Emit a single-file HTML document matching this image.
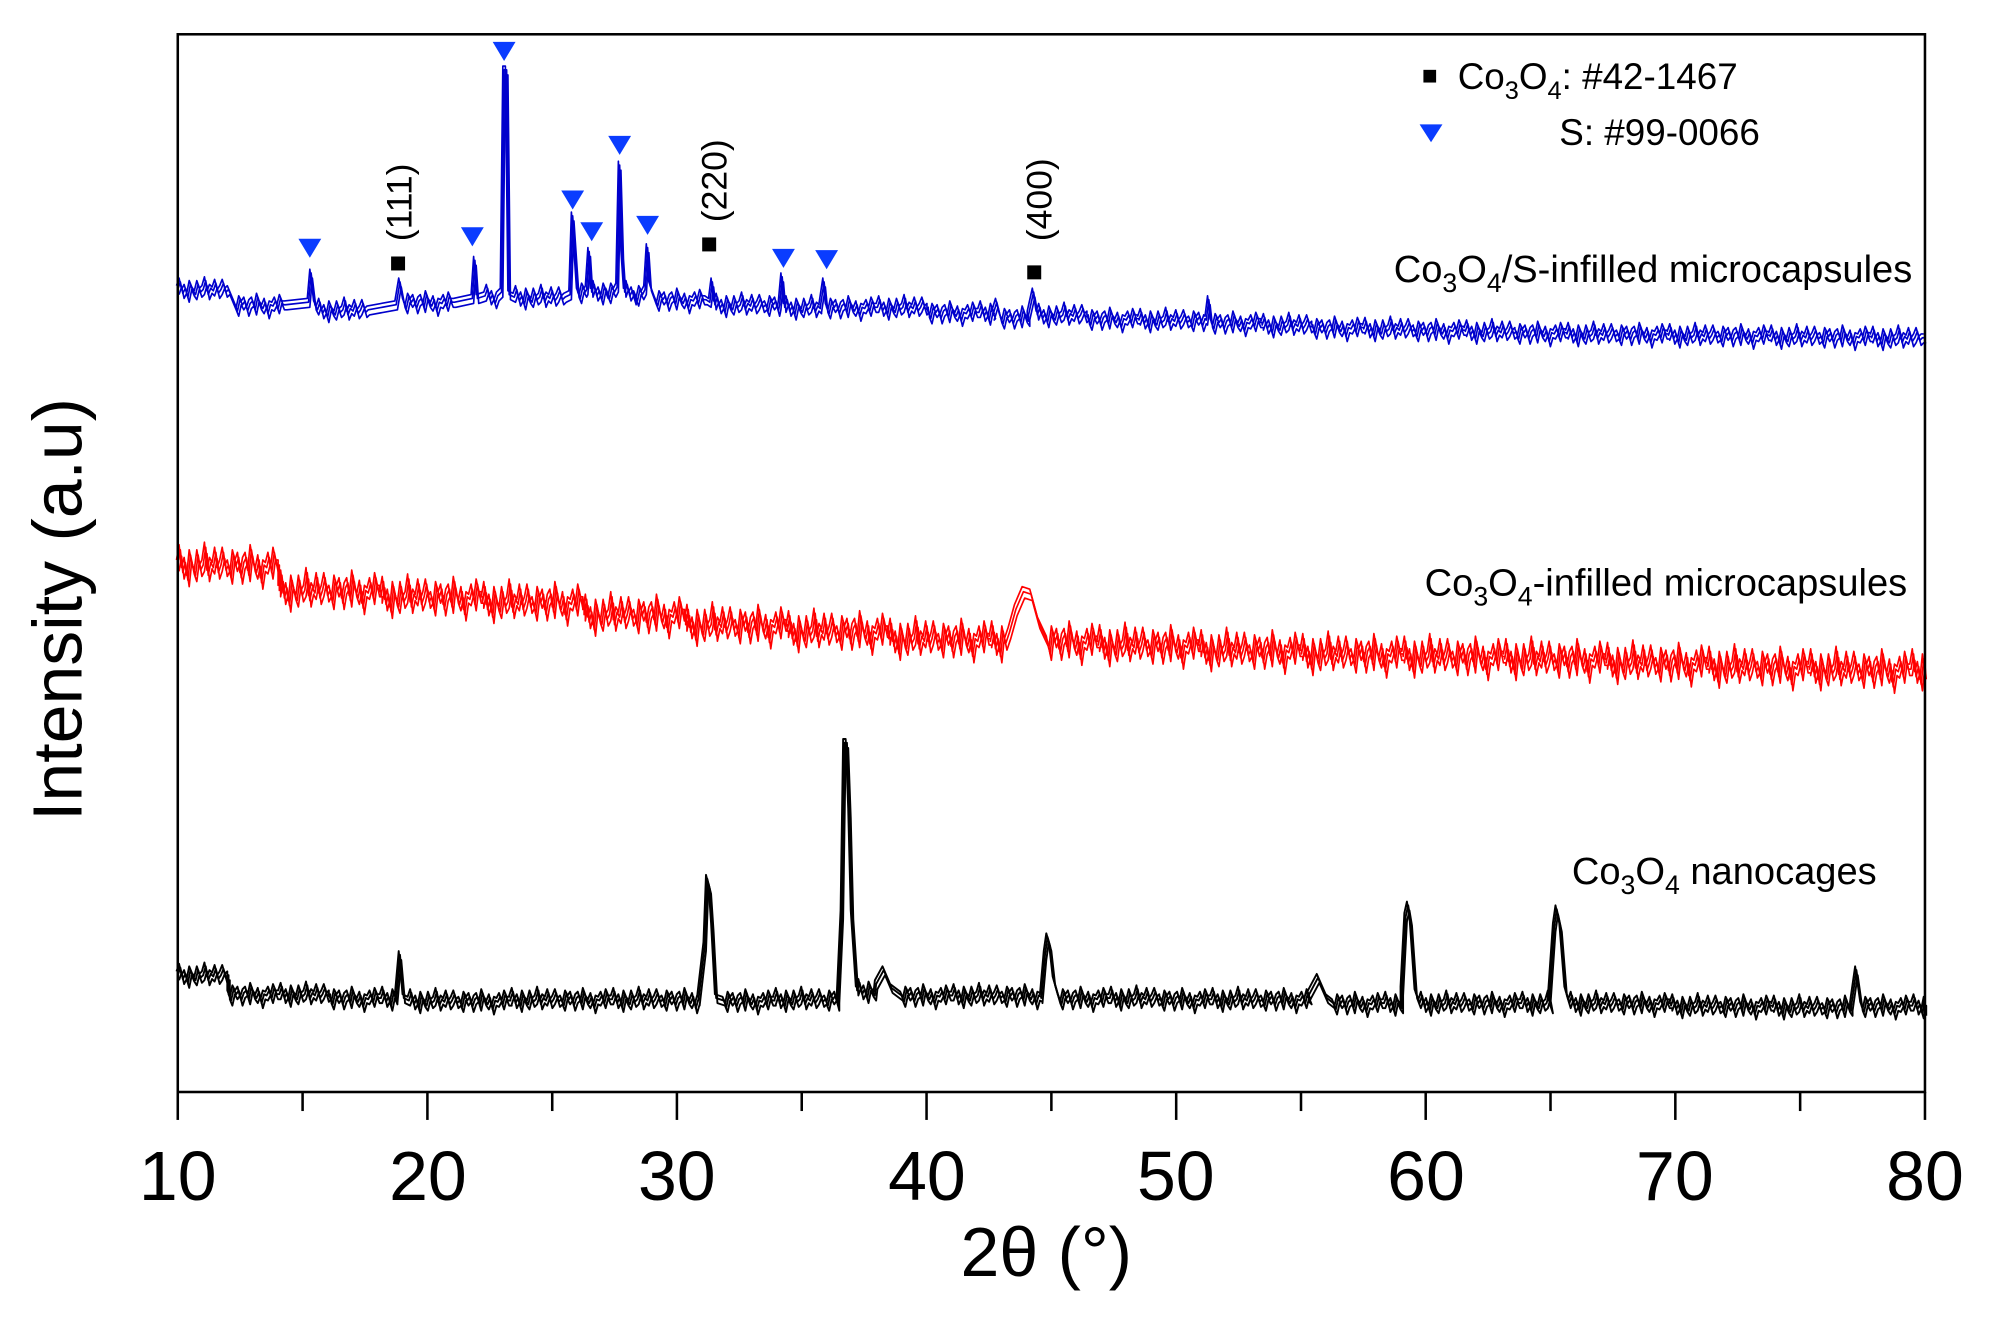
<!DOCTYPE html>
<html><head><meta charset="utf-8"><style>
html,body{margin:0;padding:0;background:#fff;}
svg{display:block;font-family:"Liberation Sans",Arial,sans-serif;}
</style></head><body>
<svg width="1991" height="1325" viewBox="0 0 1568 1043.5" xmlns="http://www.w3.org/2000/svg" xmlns:xlink="http://www.w3.org/1999/xlink">
<rect x="0" y="0" width="1568" height="1044" fill="#fff"/>
<g fill="none" stroke-width="1.3" stroke-linejoin="round">
<path id="pb" stroke="#0000cc" d="M140,228 l2,-6 2,9 2,-4 2,7 2,-10 2,5 2,3 2,-8 2,6 2,-2 2,-7 2,11 2,-5 2,2 2,-6 2,8 2,-3 2,-5 2,7 2,-2 L185,240 l2,5 2,-9 2,4 2,-3 2,8 2,-6 2,-2 2,7 2,-10 2,6 2,3 2,-5 2,9 2,-7 2,1 2,-4 2,6 2,-8 2,5 2,0 L243,238 L245,215 L248,240 L250,244 l2,-6 2,9 2,-4 2,7 2,-10 2,5 2,3 2,-8 2,6 2,-2 2,-7 2,11 2,-5 2,2 2,-6 2,8 2,-3 2,-5 2,7 2,-2 L312,240 L315,222 L318,238 l2,5 2,-9 2,4 2,-3 2,8 2,-6 2,-2 2,7 2,-10 2,6 2,3 2,-5 2,9 2,-7 2,1 2,-4 2,6 2,-8 2,5 2,0 L372,235 L374,205 L376,235 L382,233 l2,-6 2,9 2,-4 2,7 2,-6 L395,230 L397,55 L399,55 L401,232 L405,234 l2,-6 2,9 2,-4 2,7 2,-10 2,5 2,3 2,-8 2,6 2,-2 2,-7 2,11 2,-5 2,2 2,-6 2,8 2,-3 2,-5 2,7 2,-2 L449,232 L451,170 L453,200 L455,230 l2,5 2,-9 2,4 L462,228 L464,198 L466,230 l2,-6 2,9 2,-4 2,7 2,-10 2,5 L478,230 l2,5 2,-9 2,4 L486,226 L488,130 L490,200 L492,230 l2,-6 2,9 2,-4 2,7 L500,232 l2,5 2,-9 2,4 L508,228 L510,195 L512,225 L516,236 l2,5 2,-9 2,4 2,-3 2,8 2,-6 2,-2 2,7 2,-10 2,6 2,3 2,-5 2,9 2,-7 2,1 2,-4 2,6 2,-8 2,5 2,0 L559,238 L561,222 L563,240 l2,-6 2,9 2,-4 2,7 2,-10 2,5 2,3 2,-8 2,6 2,-2 2,-7 2,11 2,-5 2,2 2,-6 2,8 2,-3 2,-5 2,7 2,-2 l2,5 2,-9 2,4 2,-3 2,8 L614,240 L616,218 L618,242 l2,-6 2,9 2,-4 2,7 2,-10 2,5 2,3 2,-8 2,6 2,-2 2,-7 2,11 2,-5 2,2 L646,242 L649,222 L651,242 l2,5 2,-9 2,4 2,-3 2,8 2,-6 2,-2 2,7 2,-10 2,6 2,3 2,-5 2,9 2,-7 2,1 2,-4 2,6 2,-8 2,5 2,0 l2,-6 2,9 2,-4 2,7 2,-10 2,5 2,3 2,-8 2,6 2,-2 2,-7 2,11 2,-5 2,2 2,-6 2,8 2,-3 2,-5 2,7 2,-2 L731,246 l2,5 2,-9 2,4 2,-3 2,8 2,-6 2,-2 2,7 2,-10 2,6 2,3 2,-5 2,9 2,-7 2,1 2,-4 2,6 2,-8 2,5 2,0 l2,-6 2,9 2,-4 2,7 2,-10 2,5 L782,248 L785,238 L788,250 l2,5 2,-9 2,4 2,-3 2,8 2,-6 2,-2 2,7 2,-10 2,6 2,3 L810,248 L814,230 L817,248 l2,-6 2,9 2,-4 2,7 2,-10 2,5 2,3 2,-8 2,6 2,-2 2,-7 2,11 2,-5 2,2 2,-6 2,8 2,-3 2,-5 2,7 2,-2 L857,251 l2,5 2,-9 2,4 2,-3 2,8 2,-6 2,-2 2,7 2,-10 2,6 2,3 2,-5 2,9 2,-7 2,1 2,-4 2,6 2,-8 2,5 2,0 L897,252 l2,-6 2,9 2,-4 2,7 2,-10 2,5 2,3 2,-8 2,6 2,-2 2,-7 2,11 2,-5 2,2 2,-6 2,8 2,-3 2,-5 2,7 2,-2 l2,5 2,-9 2,4 2,-3 2,8 2,-6 L950,252 L952,236 L954,254 l2,5 2,-9 2,4 2,-3 2,8 2,-6 2,-2 2,7 2,-10 2,6 2,3 2,-5 2,9 2,-7 2,1 2,-4 2,6 2,-8 2,5 2,0 L994,256 l2,-6 2,9 2,-4 2,7 2,-10 2,5 2,3 2,-8 2,6 2,-2 2,-7 2,11 2,-5 2,2 2,-6 2,8 2,-3 2,-5 2,7 2,-2 L1034,258 l2,5 2,-9 2,4 2,-3 2,8 2,-6 2,-2 2,7 2,-10 2,6 2,3 2,-5 2,9 2,-7 2,1 2,-4 2,6 2,-8 2,5 2,0 L1074,259 l2,-6 2,9 2,-4 2,7 2,-10 2,5 2,3 2,-8 2,6 2,-2 2,-7 2,11 2,-5 2,2 2,-6 2,8 2,-3 2,-5 2,7 2,-2 L1114,260 l2,5 2,-9 2,4 2,-3 2,8 2,-6 2,-2 2,7 2,-10 2,6 2,3 2,-5 2,9 2,-7 2,1 2,-4 2,6 2,-8 2,5 2,0 L1154,261 l2,-6 2,9 2,-4 2,7 2,-10 2,5 2,3 2,-8 2,6 2,-2 2,-7 2,11 2,-5 2,2 2,-6 2,8 2,-3 2,-5 2,7 2,-2 L1194,262 l2,5 2,-9 2,4 2,-3 2,8 2,-6 2,-2 2,7 2,-10 2,6 2,3 2,-5 2,9 2,-7 2,1 2,-4 2,6 2,-8 2,5 2,0 L1234,263 l2,-6 2,9 2,-4 2,7 2,-10 2,5 2,3 2,-8 2,6 2,-2 2,-7 2,11 2,-5 2,2 2,-6 2,8 2,-3 2,-5 2,7 2,-2 L1274,263 l2,5 2,-9 2,4 2,-3 2,8 2,-6 2,-2 2,7 2,-10 2,6 2,3 2,-5 2,9 2,-7 2,1 2,-4 2,6 2,-8 2,5 2,0 L1314,264 l2,-6 2,9 2,-4 2,7 2,-10 2,5 2,3 2,-8 2,6 2,-2 2,-7 2,11 2,-5 2,2 2,-6 2,8 2,-3 2,-5 2,7 2,-2 L1354,264 l2,5 2,-9 2,4 2,-3 2,8 2,-6 2,-2 2,7 2,-10 2,6 2,3 2,-5 2,9 2,-7 2,1 2,-4 2,6 2,-8 2,5 2,0 L1394,265 l2,-6 2,9 2,-4 2,7 2,-10 2,5 2,3 2,-8 2,6 2,-2 2,-7 2,11 2,-5 2,2 2,-6 2,8 2,-3 2,-5 2,7 2,-2 L1434,265 l2,5 2,-9 2,4 2,-3 2,8 2,-6 2,-2 2,7 2,-10 2,6 2,3 2,-5 2,9 2,-7 2,1 2,-4 2,6 2,-8 2,5 2,0 L1474,266 l2,-6 2,9 2,-4 2,7 2,-10 2,5 2,3 2,-8 2,6 2,-2 2,-7 2,11 2,-5 2,2 2,-6 2,8 2,-3 2,-5 2,7 2,-2 L1516,266"/>
<path id="pr" stroke="#ff0000" d="M140,445 l2,-12 2,18 2,-8 2,14 2,-20 2,10 2,6 2,-16 2,12 2,-4 2,-14 2,22 2,-10 2,4 2,-12 2,16 2,-6 2,-10 2,14 2,-4 l2,10 2,-18 2,8 2,-6 2,16 2,-12 2,-4 2,14 2,-20 2,12 2,6 2,-10 2,18 2,-14 2,2 2,-8 2,12 2,-16 2,10 2,0 L220,465 l2,-12 2,18 2,-8 2,14 2,-20 2,10 2,6 2,-16 2,12 2,-4 2,-14 2,22 2,-10 2,4 2,-12 2,16 2,-6 2,-10 2,14 2,-4 l2,10 2,-18 2,8 2,-6 2,16 2,-12 2,-4 2,14 2,-20 2,12 2,6 2,-10 2,18 2,-14 2,2 2,-8 2,12 2,-16 2,10 2,0 L300,470 l2,-12 2,18 2,-8 2,14 2,-20 2,10 2,6 2,-16 2,12 2,-4 2,-14 2,22 2,-10 2,4 2,-12 2,16 2,-6 2,-10 2,14 2,-4 l2,10 2,-18 2,8 2,-6 2,16 2,-12 2,-4 2,14 2,-20 2,12 2,6 2,-10 2,18 2,-14 2,2 2,-8 2,12 2,-16 2,10 2,0 L380,474 l2,-12 2,18 2,-8 2,14 2,-20 2,10 2,6 2,-16 2,12 2,-4 2,-14 2,22 2,-10 2,4 2,-12 2,16 2,-6 2,-10 2,14 2,-4 l2,10 2,-18 2,8 2,-6 2,16 2,-12 2,-4 2,14 2,-20 2,12 2,6 2,-10 2,18 2,-14 2,2 2,-8 2,12 2,-16 2,10 2,0 L460,484 l2,-12 2,18 2,-8 2,14 2,-20 2,10 2,6 2,-16 2,12 2,-4 2,-14 2,22 2,-10 2,4 2,-12 2,16 2,-6 2,-10 2,14 2,-4 l2,10 2,-18 2,8 2,-6 2,16 2,-12 2,-4 2,14 2,-20 2,12 2,6 2,-10 2,18 2,-14 2,2 2,-8 2,12 2,-16 2,10 2,0 L540,492 l2,-12 2,18 2,-8 2,14 2,-20 2,10 2,6 2,-16 2,12 2,-4 2,-14 2,22 2,-10 2,4 2,-12 2,16 2,-6 2,-10 2,14 2,-4 l2,10 2,-18 2,8 2,-6 2,16 2,-12 2,-4 2,14 2,-20 2,12 2,6 2,-10 2,18 2,-14 2,2 2,-8 2,12 2,-16 2,10 2,0 L620,497 l2,-12 2,18 2,-8 2,14 2,-20 2,10 2,6 2,-16 2,12 2,-4 2,-14 2,22 2,-10 2,4 2,-12 2,16 2,-6 2,-10 2,14 2,-4 l2,10 2,-18 2,8 2,-6 2,16 2,-12 2,-4 2,14 2,-20 2,12 2,6 2,-10 2,18 2,-14 2,2 2,-8 2,12 2,-16 2,10 2,0 L700,503 l2,-12 2,18 2,-8 2,14 2,-20 2,10 2,6 2,-16 2,12 2,-4 2,-14 2,22 2,-10 2,4 2,-12 2,16 2,-6 2,-10 2,14 2,-4 l2,10 2,-18 2,8 2,-6 2,16 2,-12 2,-4 2,14 2,-20 2,12 2,6 2,-10 2,18 2,-14 2,2 2,-8 2,12 2,-16 2,10 2,0 L780,505 l2,-12 2,18 2,-8 2,14 2,-20 2,10 L795,498 L800,480 L806,466 L812,468 L818,490 L825,505 l2,10 2,-18 2,8 2,-6 2,16 2,-12 2,-4 2,14 2,-20 2,12 2,6 2,-10 2,18 2,-14 2,2 2,-8 2,12 2,-16 2,10 2,0 L865,508 l2,-12 2,18 2,-8 2,14 2,-20 2,10 2,6 2,-16 2,12 2,-4 2,-14 2,22 2,-10 2,4 2,-12 2,16 2,-6 2,-10 2,14 2,-4 l2,10 2,-18 2,8 2,-6 2,16 2,-12 2,-4 2,14 2,-20 2,12 2,6 2,-10 2,18 2,-14 2,2 2,-8 2,12 2,-16 2,10 2,0 L945,512 l2,-12 2,18 2,-8 2,14 2,-20 2,10 2,6 2,-16 2,12 2,-4 2,-14 2,22 2,-10 2,4 2,-12 2,16 2,-6 2,-10 2,14 2,-4 l2,10 2,-18 2,8 2,-6 2,16 2,-12 2,-4 2,14 2,-20 2,12 2,6 2,-10 2,18 2,-14 2,2 2,-8 2,12 2,-16 2,10 2,0 L1025,515 l2,-12 2,18 2,-8 2,14 2,-20 2,10 2,6 2,-16 2,12 2,-4 2,-14 2,22 2,-10 2,4 2,-12 2,16 2,-6 2,-10 2,14 2,-4 l2,10 2,-18 2,8 2,-6 2,16 2,-12 2,-4 2,14 2,-20 2,12 2,6 2,-10 2,18 2,-14 2,2 2,-8 2,12 2,-16 2,10 2,0 L1105,517 l2,-12 2,18 2,-8 2,14 2,-20 2,10 2,6 2,-16 2,12 2,-4 2,-14 2,22 2,-10 2,4 2,-12 2,16 2,-6 2,-10 2,14 2,-4 l2,10 2,-18 2,8 2,-6 2,16 2,-12 2,-4 2,14 2,-20 2,12 2,6 2,-10 2,18 2,-14 2,2 2,-8 2,12 2,-16 2,10 2,0 L1185,519 l2,-12 2,18 2,-8 2,14 2,-20 2,10 2,6 2,-16 2,12 2,-4 2,-14 2,22 2,-10 2,4 2,-12 2,16 2,-6 2,-10 2,14 2,-4 l2,10 2,-18 2,8 2,-6 2,16 2,-12 2,-4 2,14 2,-20 2,12 2,6 2,-10 2,18 2,-14 2,2 2,-8 2,12 2,-16 2,10 2,0 L1265,522 l2,-12 2,18 2,-8 2,14 2,-20 2,10 2,6 2,-16 2,12 2,-4 2,-14 2,22 2,-10 2,4 2,-12 2,16 2,-6 2,-10 2,14 2,-4 l2,10 2,-18 2,8 2,-6 2,16 2,-12 2,-4 2,14 2,-20 2,12 2,6 2,-10 2,18 2,-14 2,2 2,-8 2,12 2,-16 2,10 2,0 L1345,525 l2,-12 2,18 2,-8 2,14 2,-20 2,10 2,6 2,-16 2,12 2,-4 2,-14 2,22 2,-10 2,4 2,-12 2,16 2,-6 2,-10 2,14 2,-4 l2,10 2,-18 2,8 2,-6 2,16 2,-12 2,-4 2,14 2,-20 2,12 2,6 2,-10 2,18 2,-14 2,2 2,-8 2,12 2,-16 2,10 2,0 L1425,527 l2,-12 2,18 2,-8 2,14 2,-20 2,10 2,6 2,-16 2,12 2,-4 2,-14 2,22 2,-10 2,4 2,-12 2,16 2,-6 2,-10 2,14 2,-4 l2,10 2,-18 2,8 2,-6 2,16 2,-12 2,-4 2,14 2,-20 2,12 2,6 2,-10 2,18 2,-14 2,2 2,-8 2,12 2,-16 2,10 2,0 l2,-12 2,18 2,-8 2,14 2,-20 L1516,530"/>
<path id="pk" stroke="#000" stroke-width="1.5" d="M140,768 l2,-6 2,9 2,-4 2,7 2,-10 2,5 2,3 2,-8 2,6 2,-2 2,-7 2,11 2,-5 2,2 2,-6 2,8 2,-3 2,-5 2,7 2,-2 L180,783 l2,5 2,-9 2,4 2,-3 2,8 2,-6 2,-2 2,7 2,-10 2,6 2,3 2,-5 2,9 2,-7 2,1 2,-4 2,6 2,-8 2,5 2,0 l2,-6 2,9 2,-4 2,7 2,-10 2,5 2,3 2,-8 2,6 2,-2 2,-7 2,11 2,-5 2,2 2,-6 2,8 2,-3 2,-5 2,7 2,-2 L260,786 l2,5 2,-9 2,4 2,-3 2,8 2,-6 2,-2 2,7 2,-10 2,6 2,3 2,-5 2,9 2,-7 2,1 2,-4 2,6 2,-8 2,5 2,0 l2,-6 2,9 2,-4 2,7 2,-10 2,5 L312,786 L315,752 L318,786 L322,788 l2,-6 2,9 2,-4 2,7 2,-10 2,5 2,3 2,-8 2,6 2,-2 2,-7 2,11 2,-5 2,2 2,-6 2,8 2,-3 2,-5 2,7 2,-2 l2,5 2,-9 2,4 2,-3 2,8 2,-6 2,-2 2,7 2,-10 2,6 2,3 2,-5 2,9 2,-7 2,1 2,-4 2,6 2,-8 2,5 2,0 L402,787 l2,-6 2,9 2,-4 2,7 2,-10 2,5 2,3 2,-8 2,6 2,-2 2,-7 2,11 2,-5 2,2 2,-6 2,8 2,-3 2,-5 2,7 2,-2 l2,5 2,-9 2,4 2,-3 2,8 2,-6 2,-2 2,7 2,-10 2,6 2,3 2,-5 2,9 2,-7 2,1 2,-4 2,6 2,-8 2,5 2,0 L482,787 l2,-6 2,9 2,-4 2,7 2,-10 2,5 2,3 2,-8 2,6 2,-2 2,-7 2,11 2,-5 2,2 2,-6 2,8 2,-3 2,-5 2,7 2,-2 l2,5 2,-9 2,4 2,-3 2,8 2,-6 2,-2 2,7 2,-10 2,6 2,3 2,-5 2,9 2,-7 L550,788 L555,745 L557,692 L559,700 L561,730 L564,786 L570,788 l2,5 2,-9 2,4 2,-3 2,8 2,-6 2,-2 2,7 2,-10 2,6 2,3 2,-5 2,9 2,-7 2,1 2,-4 2,6 2,-8 2,5 2,0 L610,787 l2,-6 2,9 2,-4 2,7 2,-10 2,5 2,3 2,-8 2,6 2,-2 2,-7 2,11 2,-5 2,2 2,-6 2,8 2,-3 2,-5 2,7 2,-2 l2,5 2,-9 2,4 2,-3 2,8 L660,786 L663,720 L665,585 L667,585 L669,640 L671,720 L675,780 l2,-6 2,9 2,-4 2,7 2,-10 2,5 2,3 L690,775 L696,764 L702,778 L710,784 l2,5 2,-9 2,4 2,-3 2,8 2,-6 2,-2 2,7 2,-10 2,6 2,3 2,-5 2,9 2,-7 2,1 2,-4 2,6 2,-8 2,5 2,0 l2,-6 2,9 2,-4 2,7 2,-10 2,5 2,3 2,-8 2,6 2,-2 2,-7 2,11 2,-5 2,2 2,-6 2,8 2,-3 2,-5 2,7 2,-2 l2,5 2,-9 2,4 2,-3 2,8 2,-6 2,-2 2,7 2,-10 2,6 2,3 2,-5 2,9 2,-7 2,1 L820,786 L823,752 L825,738 L827,745 L830,772 L834,786 l2,5 2,-9 2,4 2,-3 2,8 2,-6 2,-2 2,7 2,-10 2,6 2,3 2,-5 2,9 2,-7 2,1 2,-4 2,6 2,-8 2,5 2,0 l2,-6 2,9 2,-4 2,7 2,-10 2,5 2,3 2,-8 2,6 2,-2 2,-7 2,11 2,-5 2,2 2,-6 2,8 2,-3 2,-5 2,7 2,-2 L914,787 l2,5 2,-9 2,4 2,-3 2,8 2,-6 2,-2 2,7 2,-10 2,6 2,3 2,-5 2,9 2,-7 2,1 2,-4 2,6 2,-8 2,5 2,0 l2,-6 2,9 2,-4 2,7 2,-10 2,5 2,3 2,-8 2,6 2,-2 2,-7 2,11 2,-5 2,2 2,-6 2,8 2,-3 2,-5 2,7 2,-2 l2,5 2,-9 2,4 2,-3 2,8 2,-6 2,-2 2,7 2,-10 2,6 2,3 2,-5 2,9 2,-7 2,1 2,-4 2,6 2,-8 2,5 L1030,785 L1038,770 L1045,786 L1050,790 l2,5 2,-9 2,4 2,-3 2,8 2,-6 2,-2 2,7 2,-10 2,6 2,3 2,-5 2,9 2,-7 2,1 2,-4 2,6 2,-8 2,5 2,0 l2,-6 2,9 2,-4 2,7 2,-10 2,5 2,3 L1104,780 L1107,722 L1109,713 L1111,725 L1115,782 L1118,790 l2,-6 2,9 2,-4 2,7 2,-10 2,5 2,3 2,-8 2,6 2,-2 2,-7 2,11 2,-5 2,2 2,-6 2,8 2,-3 2,-5 2,7 2,-2 l2,5 2,-9 2,4 2,-3 2,8 2,-6 2,-2 2,7 2,-10 2,6 2,3 2,-5 2,9 2,-7 2,1 2,-4 2,6 2,-8 2,5 2,0 l2,-6 2,9 2,-4 2,7 2,-10 2,5 2,3 2,-8 2,6 2,-2 2,-7 2,11 L1220,788 L1224,730 L1226,716 L1229,730 L1233,780 L1236,790 l2,-6 2,9 2,-4 2,7 2,-10 2,5 2,3 2,-8 2,6 2,-2 2,-7 2,11 2,-5 2,2 2,-6 2,8 2,-3 2,-5 2,7 2,-2 l2,5 2,-9 2,4 2,-3 2,8 2,-6 2,-2 2,7 2,-10 2,6 2,3 2,-5 2,9 2,-7 2,1 2,-4 2,6 2,-8 2,5 2,0 L1316,792 l2,-6 2,9 2,-4 2,7 2,-10 2,5 2,3 2,-8 2,6 2,-2 2,-7 2,11 2,-5 2,2 2,-6 2,8 2,-3 2,-5 2,7 2,-2 l2,5 2,-9 2,4 2,-3 2,8 2,-6 2,-2 2,7 2,-10 2,6 2,3 2,-5 2,9 2,-7 2,1 2,-4 2,6 2,-8 2,5 2,0 L1396,793 l2,-6 2,9 2,-4 2,7 2,-10 2,5 2,3 2,-8 2,6 2,-2 2,-7 2,11 2,-5 2,2 2,-6 2,8 2,-3 2,-5 2,7 2,-2 l2,5 2,-9 2,4 2,-3 2,8 2,-6 2,-2 2,7 2,-10 2,6 2,3 L1458,792 L1462,764 L1466,792 l2,5 2,-9 2,4 2,-3 2,8 2,-6 2,-2 2,7 2,-10 2,6 2,3 2,-5 2,9 2,-7 2,1 2,-4 2,6 2,-8 2,5 2,0 l2,-6 2,9 2,-4 2,7 2,-10 L1516,796"/>
<use xlink:href="#pb" href="#pb" transform="translate(1,4)"/>
<use xlink:href="#pb" href="#pb" transform="translate(-1,-3)"/>
<use xlink:href="#pr" href="#pr" transform="translate(1,5)"/>
<use xlink:href="#pr" href="#pr" transform="translate(-1,-4)"/>
<use xlink:href="#pk" href="#pk" transform="translate(1,4)"/>
<use xlink:href="#pk" href="#pk" transform="translate(-1,-3)"/>
</g>
<rect x="140" y="27" width="1376" height="833" fill="none" stroke="#000" stroke-width="2"/>
<g stroke="#000" stroke-width="2">
<line x1="140" y1="860" x2="140" y2="882"/><line x1="238.3" y1="860" x2="238.3" y2="875"/>
<line x1="336.6" y1="860" x2="336.6" y2="882"/><line x1="434.9" y1="860" x2="434.9" y2="875"/>
<line x1="533.1" y1="860" x2="533.1" y2="882"/><line x1="631.4" y1="860" x2="631.4" y2="875"/>
<line x1="729.7" y1="860" x2="729.7" y2="882"/><line x1="828" y1="860" x2="828" y2="875"/>
<line x1="926.3" y1="860" x2="926.3" y2="882"/><line x1="1024.6" y1="860" x2="1024.6" y2="875"/>
<line x1="1122.8" y1="860" x2="1122.8" y2="882"/><line x1="1221.1" y1="860" x2="1221.1" y2="875"/>
<line x1="1319.4" y1="860" x2="1319.4" y2="882"/><line x1="1417.7" y1="860" x2="1417.7" y2="875"/>
<line x1="1516" y1="860" x2="1516" y2="882"/>
</g>
<g font-size="55" text-anchor="middle" fill="#000">
<text x="140" y="945">10</text><text x="337" y="945">20</text><text x="533" y="945">30</text><text x="730" y="945">40</text><text x="926" y="945">50</text><text x="1123" y="945">60</text><text x="1319" y="945">70</text><text x="1516" y="945">80</text>
<text x="824" y="1005">2θ (°)</text>
</g>
<text transform="translate(64,480) rotate(-90)" font-size="55" text-anchor="middle">Intensity (a.u)</text>
<g font-size="28" fill="#000">
<text transform="translate(324,190) rotate(-90)">(111)</text>
<text transform="translate(572,175) rotate(-90)">(220)</text>
<text transform="translate(828,190) rotate(-90)">(400)</text>
</g>
<g fill="#0a3cff">
<polygon points="235,188 253,188 244,203"/>
<polygon points="363,179 381,179 372,194"/>
<polygon points="388,33 406,33 397,48"/>
<polygon points="442,150 460,150 451,165"/>
<polygon points="457,175 475,175 466,190"/>
<polygon points="479,107 497,107 488,122"/>
<polygon points="501,170 519,170 510,185"/>
<polygon points="608,196 626,196 617,211"/>
<polygon points="642,197 660,197 651,212"/>
</g>
<g fill="#000">
<rect x="308" y="202" width="11" height="11"/>
<rect x="553" y="187" width="11" height="11"/>
<rect x="809" y="209" width="11" height="11"/>
</g>
<g font-size="29" fill="#000">
<rect x="1121" y="55" width="10" height="10"/>
<text x="1148" y="70">Co<tspan font-size="20" dy="8">3</tspan><tspan dy="-8">O</tspan><tspan font-size="20" dy="8">4</tspan><tspan dy="-8">: #42-1467</tspan></text>
<polygon points="1118,98 1136,98 1127,112" fill="#0a3cff"/>
<text x="1228" y="114">S: #99-0066</text>
</g>
<g font-size="30" fill="#000" text-anchor="end">
<text x="1506" y="222">Co<tspan font-size="21" dy="8">3</tspan><tspan dy="-8">O</tspan><tspan font-size="21" dy="8">4</tspan><tspan dy="-8">/S-infilled microcapsules</tspan></text>
<text x="1502" y="469">Co<tspan font-size="21" dy="8">3</tspan><tspan dy="-8">O</tspan><tspan font-size="21" dy="8">4</tspan><tspan dy="-8">-infilled microcapsules</tspan></text>
<text x="1478" y="696">Co<tspan font-size="21" dy="8">3</tspan><tspan dy="-8">O</tspan><tspan font-size="21" dy="8">4</tspan><tspan dy="-8"> nanocages</tspan></text>
</g>
</svg>
</body></html>
